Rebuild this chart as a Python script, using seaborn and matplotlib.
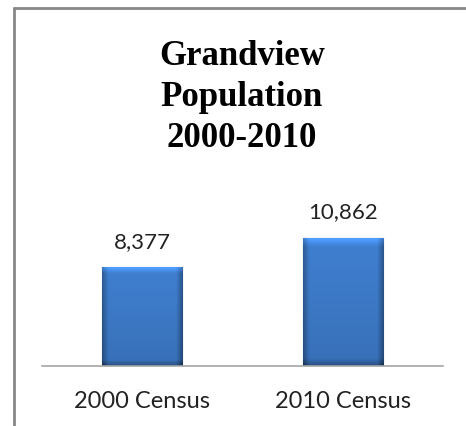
import numpy as np
import pandas as pd
import matplotlib
matplotlib.use("Agg")
import matplotlib.pyplot as plt
from matplotlib.lines import Line2D
import seaborn as sns

# Census counts for Grandview
categories = ["2000 Census", "2010 Census"]
population = [8377, 10862]
title_lines = ["Grandview", "Population", "2000-2010"]


def bar_gradient(n=120):
    # bevelled blue look: darker sides and bottom, lighter top edge
    base = np.array([0.25, 0.50, 0.82])
    xs = np.linspace(0, 1, n)
    ys = np.linspace(0, 1, n)
    X, Y = np.meshgrid(xs, ys)
    shade = np.ones_like(X)
    edge = 0.08
    shade -= 0.28 * np.clip((edge - X) / edge, 0, 1)
    shade -= 0.32 * np.clip((X - (1 - edge)) / edge, 0, 1)
    shade -= 0.25 * np.clip((0.06 - Y) / 0.06, 0, 1)
    shade += 0.30 * np.clip((Y - 0.93) / 0.07, 0, 1)
    shade -= 0.12 * (1 - Y)
    img = np.clip(base[None, None, :] * shade[:, :, None], 0, 1)
    return img


def plot_population():
    df = pd.DataFrame({"census": categories, "population": population})

    sns.set_style("white")
    plt.rcParams["font.family"] = ["Lato", "DejaVu Sans"]

    fig = plt.figure(figsize=(4.66, 4.26), dpi=100)
    ax = fig.add_axes([0.0901, 0.1397, 0.8605, 0.334])

    sns.barplot(data=df, x="census", y="population", color="#3d7bcc",
                width=0.4, edgecolor="#2a5b9e", linewidth=0.8, ax=ax)

    # gradient fill clipped to each bar
    img = bar_gradient()
    for bar in ax.patches:
        x0, y0 = bar.get_x(), bar.get_y()
        w, h = bar.get_width(), bar.get_height()
        im = ax.imshow(img, extent=[x0, x0 + w, y0, y0 + h], origin="lower",
                       aspect="auto", zorder=bar.get_zorder() + 0.1)
        im.set_clip_path(bar)

    ax.set_xlim(-0.5, 1.5)
    ax.set_ylim(0, 12000)

    ax.bar_label(ax.containers[0], labels=[f"{v:,}" for v in population],
                 padding=11, fontsize=16, color="#222222")

    ax.set_xlabel("")
    ax.set_ylabel("")
    ax.set_yticks([])
    ax.tick_params(axis="x", length=0, pad=18, labelsize=17, labelcolor="#222222")
    for side in ["left", "right", "top"]:
        ax.spines[side].set_visible(False)
    ax.spines["bottom"].set_color("#a6a6a6")
    ax.spines["bottom"].set_linewidth(1.2)

    # title, one line at a time
    for i, line in enumerate(title_lines):
        fig.text(0.519, 1 - (65 + 41 * i) / 426, line, ha="center", va="baseline",
                 fontsize=25, fontweight="bold", family="Liberation Serif",
                 color="black")

    # chart frame (only left and top visible in the crop)
    fig.add_artist(Line2D([13.5 / 466, 13.5 / 466], [0, 1 - 8 / 426],
                          color="#888888", linewidth=2, transform=fig.transFigure))
    fig.add_artist(Line2D([13.5 / 466, 1], [1 - 8 / 426, 1 - 8 / 426],
                          color="#888888", linewidth=2, transform=fig.transFigure))

    fig.savefig("out.png", dpi=100)


if __name__ == "__main__":
    plot_population()
